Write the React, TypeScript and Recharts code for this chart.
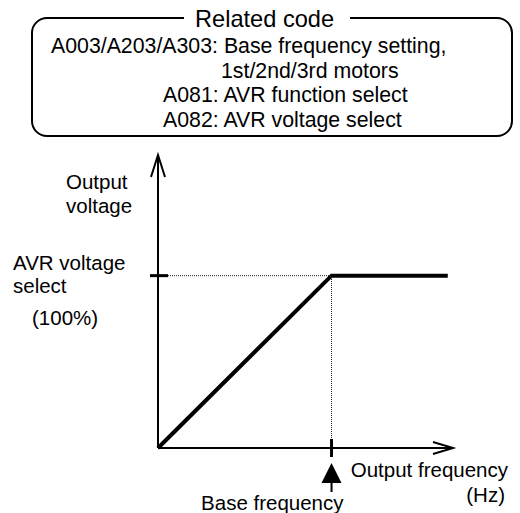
import { LineChart, Line, XAxis, YAxis, ReferenceLine, ReferenceDot } from 'recharts';

// V/f curve: output voltage (% of AVR voltage) vs output frequency (% of base frequency)
const frequency = [0, 100, 167];
const voltage = [0, 100, 100];
const baseFrequency = 100;
const avrVoltage = 100;
const axisMax = 170;

const headerTitle = 'Related code';
const headerLines = [
  { text: 'A003/A203/A303: Base frequency setting,', x: 51, y: 53 },
  { text: '1st/2nd/3rd motors', x: 221, y: 78 },
  { text: 'A081: AVR function select', x: 163, y: 102 },
  { text: 'A082: AVR voltage select', x: 163, y: 127 },
];

const data = frequency.map((f, i) => ({ f, v: voltage[i] }));

const FONT = '"Liberation Sans", Arial, sans-serif';
const FS = 20.5;

export default function App() {
  return (
    <div style={{ position: 'absolute', left: 0, top: 0, width: 520, height: 513, background: '#fff', fontFamily: FONT }}>
      <LineChart width={520} height={513} data={data} margin={{ top: 155, right: 67, bottom: 65, left: 158 }}>
        <XAxis type="number" dataKey="f" domain={[0, axisMax]} hide />
        <YAxis type="number" domain={[0, axisMax]} hide />

        {/* dotted guides */}
        <ReferenceLine
          segment={[{ x: 0, y: avrVoltage }, { x: baseFrequency, y: avrVoltage }]}
          stroke="#222"
          strokeWidth={1}
          strokeDasharray="1 1"
          ifOverflow="visible"
        />
        <ReferenceLine
          segment={[{ x: baseFrequency, y: 0 }, { x: baseFrequency, y: avrVoltage }]}
          stroke="#222"
          strokeWidth={1}
          strokeDasharray="1 1"
          ifOverflow="visible"
        />

        {/* axes */}
        <ReferenceLine segment={[{ x: 0, y: 0 }, { x: axisMax, y: 0 }]} stroke="#000" strokeWidth={2} ifOverflow="visible" />
        <ReferenceLine segment={[{ x: 0, y: 0 }, { x: 0, y: axisMax }]} stroke="#000" strokeWidth={2} ifOverflow="visible" />

        <Line
          type="linear"
          dataKey="v"
          stroke="#000"
          strokeWidth={4}
          dot={false}
          activeDot={false}
          isAnimationActive={false}
        />

        {/* y arrow + label */}
        <ReferenceDot
          x={0}
          y={axisMax}
          ifOverflow="visible"
          shape={(p: any) => (
            <g>
              <path d={`M${p.cx - 7},${p.cy + 22} L${p.cx},${p.cy} L${p.cx + 7},${p.cy + 22}`} fill="none" stroke="#000" strokeWidth={2} />
              <text x={p.cx - 92} y={p.cy + 34} fontSize={FS} fontFamily={FONT} fill="#000">Output</text>
              <text x={p.cx - 92} y={p.cy + 58} fontSize={FS} fontFamily={FONT} fill="#000">voltage</text>
            </g>
          )}
        />

        {/* x arrow + label */}
        <ReferenceDot
          x={axisMax}
          y={0}
          ifOverflow="visible"
          shape={(p: any) => (
            <g>
              <path d={`M${p.cx - 20},${p.cy - 6} L${p.cx},${p.cy} L${p.cx - 20},${p.cy + 6}`} fill="none" stroke="#000" strokeWidth={2} />
              <text x={p.cx + 55} y={p.cy + 29} textAnchor="end" fontSize={FS} fontFamily={FONT} fill="#000">Output frequency</text>
              <text x={p.cx + 52} y={p.cy + 54} textAnchor="end" fontSize={FS} fontFamily={FONT} fill="#000">(Hz)</text>
            </g>
          )}
        />

        {/* AVR voltage tick */}
        <ReferenceDot
          x={0}
          y={avrVoltage}
          ifOverflow="visible"
          shape={(p: any) => (
            <g>
              <line x1={p.cx - 8} x2={p.cx + 10} y1={p.cy} y2={p.cy} stroke="#000" strokeWidth={3} />
              <text x={p.cx - 145} y={p.cy - 6} fontSize={FS} fontFamily={FONT} fill="#000">AVR voltage</text>
              <text x={p.cx - 145} y={p.cy + 17} fontSize={FS} fontFamily={FONT} fill="#000">select</text>
              <text x={p.cx - 126} y={p.cy + 49} fontSize={FS} fontFamily={FONT} fill="#000">(100%)</text>
            </g>
          )}
        />

        {/* base frequency tick + pointer */}
        <ReferenceDot
          x={baseFrequency}
          y={0}
          ifOverflow="visible"
          shape={(p: any) => (
            <g>
              <line x1={p.cx} x2={p.cx} y1={p.cy - 9} y2={p.cy + 9} stroke="#000" strokeWidth={3} />
              <path d={`M${p.cx},${p.cy + 15} L${p.cx + 10},${p.cy + 35} L${p.cx - 10},${p.cy + 35} Z`} fill="#000" />
              <line x1={p.cx} x2={p.cx} y1={p.cy + 34} y2={p.cy + 44} stroke="#000" strokeWidth={2} />
              <text x={p.cx + 12} y={p.cy + 62} textAnchor="end" fontSize={FS} fontFamily={FONT} fill="#000">Base frequency</text>
            </g>
          )}
        />
      </LineChart>

      {/* related code box */}
      <svg width={520} height={150} style={{ position: 'absolute', left: 0, top: 0, pointerEvents: 'none' }}>
        <rect x={32} y={18} width={480} height={118} rx={15} ry={15} fill="none" stroke="#000" strokeWidth={2} />
        <rect x={184} y={8} width={166} height={18} fill="#fff" />
        <text x={195} y={27} fontSize={23.6} fontFamily={FONT} fill="#000">{headerTitle}</text>
        {headerLines.map((l) => (
          <text key={l.text} x={l.x} y={l.y} fontSize={21.3} fontFamily={FONT} fill="#000">
            {l.text}
          </text>
        ))}
      </svg>
    </div>
  );
}
